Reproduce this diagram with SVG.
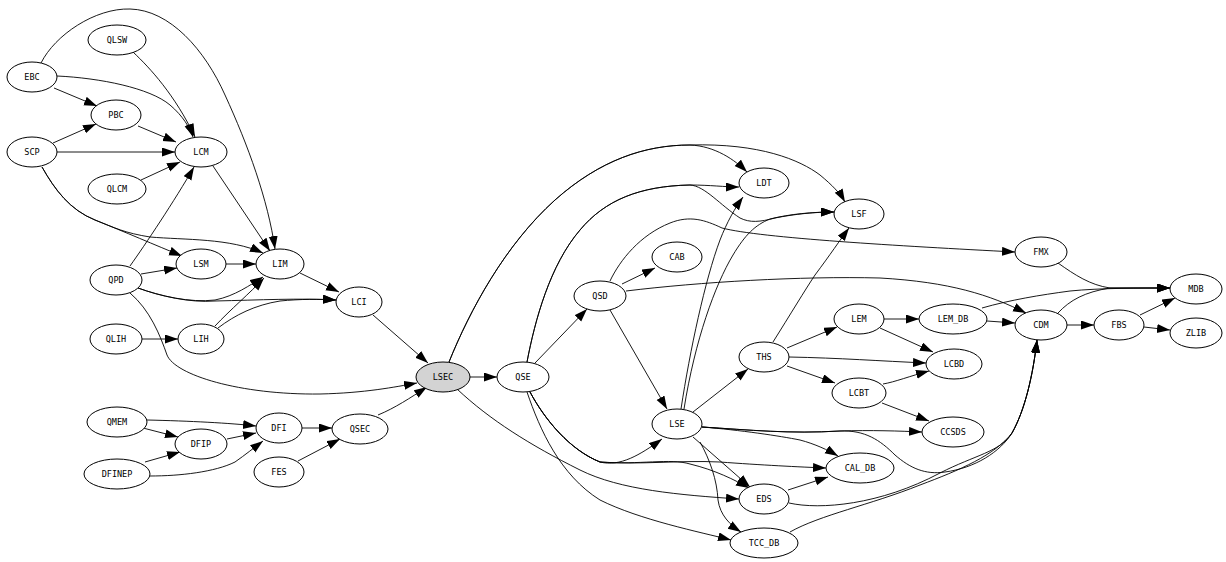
<svg xmlns="http://www.w3.org/2000/svg" width="1226" height="562" viewBox="0 0 1226 562">
<style>
.e{fill:none;stroke:#000;stroke-width:0.9;marker-end:url(#ah)}
.n ellipse{fill:#fff;stroke:#000;stroke-width:1}
.n text{font-family:"DejaVu Sans Mono","Liberation Mono",monospace;font-size:8.5px;text-anchor:middle;fill:#000}
#node-LSEC ellipse{fill:#d3d3d3}
</style>
<defs>
<marker id="ah" markerUnits="userSpaceOnUse" markerWidth="14" markerHeight="10" refX="13" refY="4.5" orient="auto">
<path d="M0,0 L13,4.5 L0,9 z" fill="#000"/>
</marker>
</defs>
<rect width="1226" height="562" fill="#fff"/>
<g id="edges">
<path class="e" d="M41,63 C55,35 95,8 130,9 C170,10 205,50 225,95 C248,145 268,200 275,249"/>
<path class="e" d="M57,76 C100,78 150,88 170,105 C183,116 190,128 193,137"/>
<path class="e" d="M54,88 L97,106"/>
<path class="e" d="M133,52 C150,68 175,95 195,137"/>
<path class="e" d="M138,126 L176,142"/>
<path class="e" d="M53,143 L96,124"/>
<path class="e" d="M57,152 L175,152"/>
<path class="e" d="M141,180 L180,162"/>
<path class="e" d="M42,167 C55,190 70,210 95,220 C125,232 155,245 182,256"/>
<path class="e" d="M42,167 C55,190 70,210 95,220 C115,228 125,233 150,237 C185,240 230,238 263,253"/>
<path class="e" d="M226,264 L256,264"/>
<path class="e" d="M213,166 L270,251"/>
<path class="e" d="M130,266 C145,245 175,200 194,167"/>
<path class="e" d="M141,274 L177,268"/>
<path class="e" d="M138,288 C160,296 190,303 215,300 C235,296 250,285 263,277"/>
<path class="e" d="M138,288 C160,296 190,303 215,301 C260,300 300,298 336,300"/>
<path class="e" d="M215,326 C230,310 250,293 264,278"/>
<path class="e" d="M218,328 C235,315 255,305 280,301 C300,299 320,299 336,300"/>
<path class="e" d="M300,273 L339,292"/>
<path class="e" d="M130,293 C150,310 160,335 167,355 C175,375 240,395 320,394 C365,393 395,387 417,383"/>
<path class="e" d="M142,339 L178,339"/>
<path class="e" d="M373,315 L428,363"/>
<path class="e" d="M147,420 C190,421 230,423 256,426"/>
<path class="e" d="M143,428 L178,437"/>
<path class="e" d="M227,439 L256,433"/>
<path class="e" d="M145,462 L180,452"/>
<path class="e" d="M150,476 C180,476 215,472 235,462 C245,455 255,447 263,441"/>
<path class="e" d="M302,428 L332,428"/>
<path class="e" d="M298,461 L340,439"/>
<path class="e" d="M378,415 C395,408 410,398 427,387"/>
<path class="e" d="M470,377 L497,377"/>
<path class="e" d="M449,362 C470,310 505,245 555,200 C600,160 645,145 690,145 C715,146 735,160 747,172"/>
<path class="e" d="M449,362 C470,310 505,245 555,200 C600,160 645,145 690,145 C760,143 800,160 820,175 C832,185 840,193 845,202"/>
<path class="e" d="M535,363 L587,309"/>
<path class="e" d="M527,362 C535,320 550,265 580,230 C605,200 640,186 690,185 C710,185 725,187 739,187"/>
<path class="e" d="M527,362 C535,320 550,265 580,230 C605,200 640,186 690,185 C705,186 720,205 740,218 C750,223 760,222 775,218 C795,214 815,212 834,212"/>
<path class="e" d="M622,284 L655,268"/>
<path class="e" d="M610,281 C620,260 640,235 670,223 C690,215 705,220 722,228 C760,238 900,246 1015,252"/>
<path class="e" d="M626,291 C700,282 800,276 880,278 C950,282 990,295 1026,313"/>
<path class="e" d="M610,310 L667,409"/>
<path class="e" d="M530,392 C545,420 570,450 600,462 C620,467 640,455 662,439"/>
<path class="e" d="M530,392 C545,420 570,450 600,462 C640,465 680,460 720,462 C760,465 800,467 826,468"/>
<path class="e" d="M530,392 C545,420 570,450 600,462 C640,465 670,458 690,464 C715,470 735,480 749,488"/>
<path class="e" d="M527,392 C540,430 560,475 600,500 C640,520 700,532 731,540"/>
<path class="e" d="M457,389 C490,420 530,445 580,470 C620,490 680,495 739,499"/>
<path class="e" d="M693,412 L748,369"/>
<path class="e" d="M681,409 C690,350 705,280 720,240 C727,222 735,208 743,197"/>
<path class="e" d="M684,409 C695,340 715,285 733,255 C745,235 755,225 770,219 C790,214 812,212 834,212"/>
<path class="e" d="M702,427 C750,430 790,434 840,431 C870,430 900,431 922,432"/>
<path class="e" d="M702,427 C740,430 780,436 800,440 C815,444 828,450 838,456"/>
<path class="e" d="M702,427 C750,430 790,434 840,431 C865,430 880,440 895,455 C910,468 925,475 945,472 C975,468 1000,452 1012,433 C1025,410 1033,375 1037,340"/>
<path class="e" d="M789,503 C820,510 880,505 940,473 C975,455 1000,452 1012,433 C1025,410 1033,375 1037,340"/>
<path class="e" d="M790,532 C820,515 870,505 920,485 C960,470 995,455 1012,433 C1025,410 1033,375 1037,340"/>
<path class="e" d="M693,437 L750,487"/>
<path class="e" d="M700,442 C710,460 717,480 718,500 C720,515 730,525 741,532"/>
<path class="e" d="M788,490 L828,477"/>
<path class="e" d="M773,342 C790,315 805,290 815,275 C830,255 840,240 849,228"/>
<path class="e" d="M787,348 L837,327"/>
<path class="e" d="M789,357 C840,358 880,361 926,363"/>
<path class="e" d="M787,366 L835,383"/>
<path class="e" d="M884,319 L919,319"/>
<path class="e" d="M880,328 L933,352"/>
<path class="e" d="M883,384 C895,382 910,376 929,371"/>
<path class="e" d="M882,403 L929,421"/>
<path class="e" d="M987,321 L1015,323"/>
<path class="e" d="M982,308 C1010,300 1040,295 1070,291 C1100,288 1140,288 1170,288"/>
<path class="e" d="M1058,263 C1075,275 1090,285 1110,288 L1170,288"/>
<path class="e" d="M1058,313 C1070,300 1085,292 1110,288 L1170,288"/>
<path class="e" d="M1067,325 L1094,325"/>
<path class="e" d="M1140,315 L1175,298"/>
<path class="e" d="M1144,327 L1170,330"/>
</g>
<g id="node-EBC" class="n"><ellipse cx="32" cy="77" rx="25" ry="15"/><text x="32" y="80">EBC</text></g>
<g id="node-QLSW" class="n"><ellipse cx="117" cy="40" rx="29" ry="15"/><text x="117" y="43">QLSW</text></g>
<g id="node-PBC" class="n"><ellipse cx="116" cy="115" rx="25" ry="15"/><text x="116" y="118">PBC</text></g>
<g id="node-SCP" class="n"><ellipse cx="32" cy="152" rx="25" ry="15"/><text x="32" y="155">SCP</text></g>
<g id="node-LCM" class="n"><ellipse cx="201" cy="152" rx="26" ry="15"/><text x="201" y="155">LCM</text></g>
<g id="node-QLCM" class="n"><ellipse cx="117" cy="189" rx="29" ry="15"/><text x="117" y="192">QLCM</text></g>
<g id="node-LSM" class="n"><ellipse cx="201" cy="264" rx="25" ry="15"/><text x="201" y="267">LSM</text></g>
<g id="node-LIM" class="n"><ellipse cx="280" cy="264" rx="24" ry="15"/><text x="280" y="267">LIM</text></g>
<g id="node-QPD" class="n"><ellipse cx="116" cy="280" rx="26" ry="15"/><text x="116" y="283">QPD</text></g>
<g id="node-LCI" class="n"><ellipse cx="359" cy="302" rx="23" ry="15"/><text x="359" y="305">LCI</text></g>
<g id="node-QLIH" class="n"><ellipse cx="116" cy="339" rx="26" ry="15"/><text x="116" y="342">QLIH</text></g>
<g id="node-LIH" class="n"><ellipse cx="201" cy="339" rx="23" ry="15"/><text x="201" y="342">LIH</text></g>
<g id="node-LSEC" class="n"><ellipse cx="443" cy="377" rx="27" ry="15"/><text x="443" y="380">LSEC</text></g>
<g id="node-QMEM" class="n"><ellipse cx="117" cy="422" rx="30" ry="15"/><text x="117" y="425">QMEM</text></g>
<g id="node-DFI" class="n"><ellipse cx="279" cy="428" rx="23" ry="15"/><text x="279" y="431">DFI</text></g>
<g id="node-QSEC" class="n"><ellipse cx="360" cy="429" rx="28" ry="15"/><text x="360" y="432">QSEC</text></g>
<g id="node-DFIP" class="n"><ellipse cx="201" cy="444" rx="26" ry="15"/><text x="201" y="447">DFIP</text></g>
<g id="node-DFINEP" class="n"><ellipse cx="117" cy="474" rx="33" ry="15"/><text x="117" y="477">DFINEP</text></g>
<g id="node-FES" class="n"><ellipse cx="279" cy="472" rx="25" ry="15"/><text x="279" y="475">FES</text></g>
<g id="node-QSE" class="n"><ellipse cx="523" cy="377" rx="26" ry="15"/><text x="523" y="380">QSE</text></g>
<g id="node-QSD" class="n"><ellipse cx="600" cy="296" rx="26" ry="15"/><text x="600" y="299">QSD</text></g>
<g id="node-CAB" class="n"><ellipse cx="677" cy="257" rx="25" ry="15"/><text x="677" y="260">CAB</text></g>
<g id="node-LDT" class="n"><ellipse cx="764" cy="183" rx="25" ry="15"/><text x="764" y="186">LDT</text></g>
<g id="node-LSF" class="n"><ellipse cx="859" cy="214" rx="25" ry="15"/><text x="859" y="217">LSF</text></g>
<g id="node-LSE" class="n"><ellipse cx="677" cy="424" rx="25" ry="15"/><text x="677" y="427">LSE</text></g>
<g id="node-THS" class="n"><ellipse cx="764" cy="357" rx="25" ry="15"/><text x="764" y="360">THS</text></g>
<g id="node-LEM" class="n"><ellipse cx="859" cy="319" rx="25" ry="15"/><text x="859" y="322">LEM</text></g>
<g id="node-LCBT" class="n"><ellipse cx="859" cy="393" rx="27" ry="15"/><text x="859" y="396">LCBT</text></g>
<g id="node-LCBD" class="n"><ellipse cx="954" cy="364" rx="28" ry="15"/><text x="954" y="367">LCBD</text></g>
<g id="node-LEM_DB" class="n"><ellipse cx="953" cy="319" rx="34" ry="15"/><text x="953" y="322">LEM_DB</text></g>
<g id="node-CCSDS" class="n"><ellipse cx="953" cy="432" rx="31" ry="15"/><text x="953" y="435">CCSDS</text></g>
<g id="node-CAL_DB" class="n"><ellipse cx="860" cy="468" rx="34" ry="15"/><text x="860" y="471">CAL_DB</text></g>
<g id="node-EDS" class="n"><ellipse cx="764" cy="499" rx="25" ry="15"/><text x="764" y="502">EDS</text></g>
<g id="node-TCC_DB" class="n"><ellipse cx="764" cy="543" rx="34" ry="15"/><text x="764" y="546">TCC_DB</text></g>
<g id="node-FMX" class="n"><ellipse cx="1041" cy="252" rx="26" ry="15"/><text x="1041" y="255">FMX</text></g>
<g id="node-CDM" class="n"><ellipse cx="1041" cy="325" rx="26" ry="15"/><text x="1041" y="328">CDM</text></g>
<g id="node-FBS" class="n"><ellipse cx="1119" cy="325" rx="25" ry="15"/><text x="1119" y="328">FBS</text></g>
<g id="node-MDB" class="n"><ellipse cx="1196" cy="289" rx="26" ry="15"/><text x="1196" y="292">MDB</text></g>
<g id="node-ZLIB" class="n"><ellipse cx="1196" cy="333" rx="26" ry="15"/><text x="1196" y="336">ZLIB</text></g>
</svg>
